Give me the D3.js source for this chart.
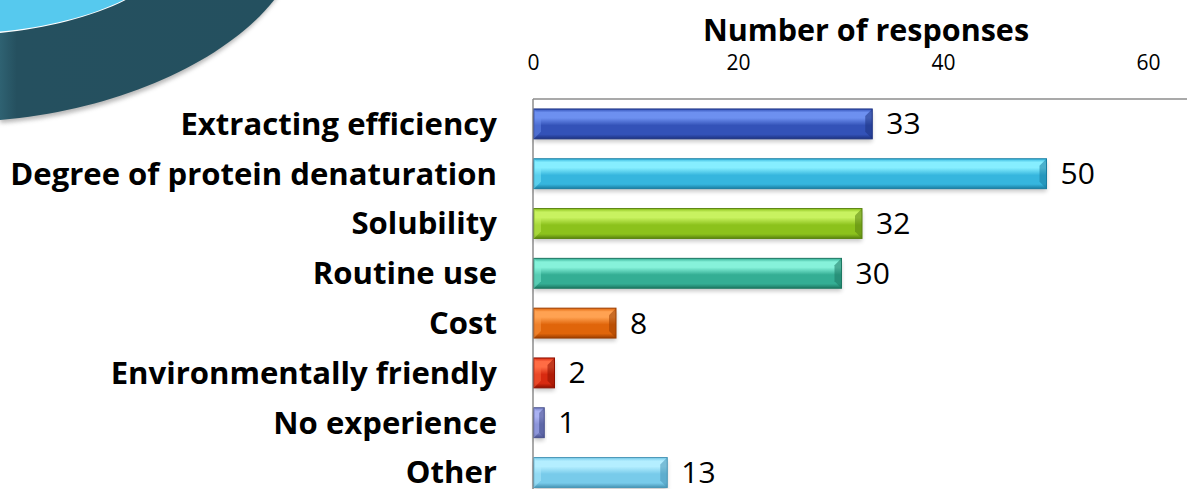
<!DOCTYPE html>
<html>
<head>
<meta charset="utf-8">
<script src="https://cdn.jsdelivr.net/npm/d3@7/dist/d3.min.js"></script>
<style>
  html, body { margin: 0; padding: 0; background: #ffffff; }
  svg { display: block; }
</style>
</head>
<body>
<svg id="chart" width="1187" height="489"></svg>
<script>
// Survey: reasons given for choosing an extraction method
const categories = [
  "Extracting efficiency",
  "Degree of protein denaturation",
  "Solubility",
  "Routine use",
  "Cost",
  "Environmentally friendly",
  "No experience",
  "Other"
];
const responses = [33, 50, 32, 30, 8, 2, 1, 13];
const xTicks = [0, 20, 40, 60];
const axisTitle = "Number of responses";

// bar palettes: [base, highlight, shade]
const barColors = [
  ["#3352b8", "#6d90f0", "#1e3382"],
  ["#36b6de", "#86eeff", "#1a7ea2"],
  ["#8cc21c", "#c8f260", "#5a8410"],
  ["#34ae94", "#86f2da", "#1d7862"],
  ["#e0650a", "#ffa252", "#9c3e00"],
  ["#d82a10", "#ff6c44", "#8e1000"],
  ["#7680c6", "#aab2f2", "#4a528e"],
  ["#78cbea", "#b4eeff", "#4896b6"]
];

const svg = d3.select("#chart");
const W = 1187, H = 489;
const plot = { left: 533, top: 99, right: 1148 };
const FONT = "'Open Sans', sans-serif";

const defs = svg.append("defs");

// ---- decorative corner swoosh ----
const swooshGrad = defs.append("linearGradient").attr("id", "swoosh").attr("x1", 0).attr("x2", 1).attr("y1", 0).attr("y2", 0);
swooshGrad.append("stop").attr("offset", "0").attr("stop-color", "#2f6272");
swooshGrad.append("stop").attr("offset", "0.06").attr("stop-color", "#25505f");
swooshGrad.append("stop").attr("offset", "1").attr("stop-color", "#24505f");

const soft = defs.append("filter").attr("id", "soft").attr("x", "-20%").attr("y", "-20%").attr("width", "140%").attr("height", "140%");
soft.append("feGaussianBlur").attr("stdDeviation", 2);

svg.append("path")
  .attr("d", "M0,-5 L279,-5 C232,62 122,114 0,123 Z")
  .attr("fill", "#9a9a9a").attr("opacity", 0.7).attr("filter", "url(#soft)");
svg.append("path")
  .attr("d", "M0,-5 L278,-5 C230,60 120,110 0,120 Z")
  .attr("fill", "url(#swoosh)");
svg.append("path")
  .attr("d", "M0,-5 L135,-5 C100,15 50,28 0,33 Z")
  .attr("fill", "#ffffff");
svg.append("path")
  .attr("d", "M0,-5 L133,-5 C100,14 50,27 0,31.5 Z")
  .attr("fill", "#56c9ee");

// ---- scales ----
const x = d3.scaleLinear().domain([0, 60]).range([plot.left, plot.right]);
const y = d3.scaleBand().domain(categories).range([plot.top, plot.top + 8 * 49.8])
  .paddingInner(0.4).paddingOuter(0.2);

// ---- frame ----
svg.append("line").attr("x1", plot.left).attr("x2", W).attr("y1", plot.top).attr("y2", plot.top)
  .attr("stroke", "#8c8c8c").attr("stroke-width", 1.5);
svg.append("line").attr("x1", plot.left).attr("x2", plot.left).attr("y1", plot.top).attr("y2", H)
  .attr("stroke", "#8c8c8c").attr("stroke-width", 1.5);

// ---- top axis ----
const axis = svg.append("g").attr("transform", `translate(0,${plot.top - 29})`)
  .call(d3.axisTop(x).tickValues(xTicks).tickSize(0).tickPadding(0));
axis.select(".domain").remove();
axis.selectAll("text")
  .attr("font-family", FONT)
  .attr("font-size", 21)
  .attr("dy", 0)
  .attr("fill", "#000");

svg.append("text")
  .attr("x", 866).attr("y", 41)
  .attr("text-anchor", "middle")
  .attr("font-family", FONT)
  .attr("font-weight", "bold")
  .attr("font-size", 30.5)
  .attr("fill", "#000")
  .text(axisTitle);

// ---- bar gradients ----
barColors.forEach((c, i) => {
  const g = defs.append("linearGradient").attr("id", "bar" + i)
    .attr("x1", 0).attr("x2", 0).attr("y1", 0).attr("y2", 1);
  g.append("stop").attr("offset", "0").attr("stop-color", c[0]);
  g.append("stop").attr("offset", "0.12").attr("stop-color", c[1]);
  g.append("stop").attr("offset", "0.3").attr("stop-color", c[1]);
  g.append("stop").attr("offset", "0.55").attr("stop-color", c[0]);
  g.append("stop").attr("offset", "0.85").attr("stop-color", c[0]);
  g.append("stop").attr("offset", "1").attr("stop-color", c[2]);
});

const data = categories.map((c, i) => ({ cat: c, v: responses[i], i }));
const bw = y.bandwidth();
const bev = 7;

const bars = svg.append("g").selectAll("g").data(data).join("g");

// drop shadow
bars.append("rect")
  .attr("x", x(0) + 1).attr("y", d => y(d.cat) + 3)
  .attr("width", d => x(d.v) - x(0)).attr("height", bw)
  .attr("fill", "#000").attr("opacity", 0.22).attr("filter", "url(#soft)");

bars.append("rect")
  .attr("x", x(0) + 1).attr("y", d => y(d.cat))
  .attr("width", d => x(d.v) - x(0)).attr("height", bw)
  .attr("fill", d => `url(#bar${d.i})`)
  .attr("stroke", d => barColors[d.i][2]).attr("stroke-width", 1);

// bevelled end caps
bars.append("path")
  .attr("d", d => {
    const x1 = x(d.v) + 1, y0 = y(d.cat), b = Math.min(bev, (x(d.v) - x(0)) / 2);
    return `M${x1},${y0} L${x1 - b},${y0 + b} L${x1 - b},${y0 + bw - b} L${x1},${y0 + bw} Z`;
  })
  .attr("fill", d => barColors[d.i][2]).attr("opacity", 0.55);
bars.append("path")
  .attr("d", d => {
    const x0 = x(0) + 1, y0 = y(d.cat), b = Math.min(bev, (x(d.v) - x(0)) / 2);
    return `M${x0},${y0} L${x0 + b},${y0 + b} L${x0 + b},${y0 + bw - b} L${x0},${y0 + bw} Z`;
  })
  .attr("fill", d => barColors[d.i][1]).attr("opacity", 0.45);

// value labels
bars.append("text")
  .attr("x", d => x(d.v) + 15)
  .attr("y", d => y(d.cat) + bw / 2)
  .attr("dy", "0.35em")
  .attr("font-family", FONT)
  .attr("font-size", 30)
  .attr("fill", "#000")
  .text(d => d.v);

// category labels
const catLabels = svg.append("g").selectAll("text").data(data).join("text")
  .attr("x", 497)
  .attr("y", d => y(d.cat) + bw / 2)
  .attr("dy", "0.35em")
  .attr("text-anchor", "end")
  .attr("font-family", FONT)
  .attr("font-weight", "bold")
  .attr("font-size", 30)
  .attr("fill", "#000")
  .text(d => d.cat);

// size the labels so the longest one fills the space left of the plot
let maxW = 0;
catLabels.each(function () { maxW = Math.max(maxW, this.getComputedTextLength()); });
catLabels.attr("font-size", 30 * 487 / maxW);
</script>
</body>
</html>
